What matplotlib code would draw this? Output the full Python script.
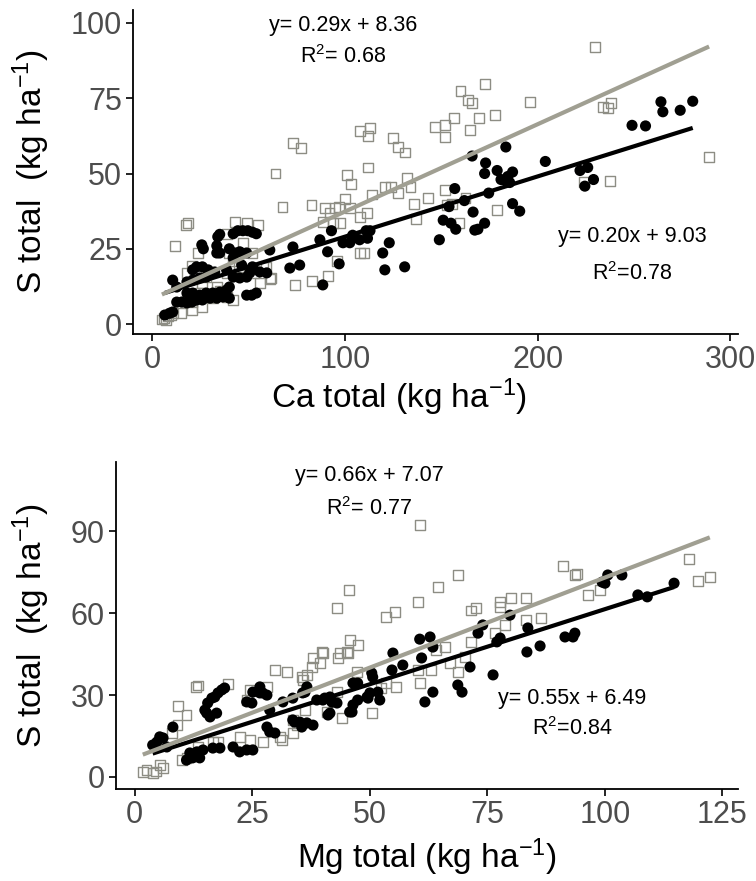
#Description
"""
S total against Ca total and Mg total, two scatter panels with fitted lines.
"""

#Libraries
import matplotlib
matplotlib.use('Agg')
import matplotlib.pyplot as plt

#Constants
plt.rcParams['font.family'] = ['Liberation Sans', 'DejaVu Sans']
plt.rcParams['mathtext.fontset'] = 'custom'
plt.rcParams['mathtext.rm'] = 'Liberation Sans'
plt.rcParams['mathtext.it'] = 'Liberation Sans:italic'
plt.rcParams['mathtext.default'] = 'regular'

GRAY_SQ = '#8d8d84'
GRAY_LINE = '#a09f92'
TICK_GRAY = '#4d4d4d'

#Data
##Ca panel, open squares
ca_sq_x = [72.9, 77, 64, 67.6, 82.6, 108, 113, 112, 101, 103, 112, 114, 100, 97, 102.5,
           89.5, 92, 88.5, 93.7, 108, 110, 91, 83, 74, 61.5, 55, 43, 49, 17.5, 18.5,
           12, 20.5, 23.6, 18, 20.5, 15, 5, 6, 8, 10, 11, 7, 28, 35, 42, 45, 57.5, 61,
           26, 38.5, 229.6, 172.5, 160, 164, 166, 196, 178, 169.5, 165, 156.5, 152,
           146.6, 152, 234, 236.5, 238, 289, 237.5, 224, 125, 127.5, 131, 120.6, 124,
           127.5, 132, 134, 136, 137, 143, 152, 153, 159.5, 162.6, 179, 28, 33.5, 38.6,
           24.6, 20.5, 38.6, 47, 52, 59, 40, 56, 53, 31.4, 42, 18, 26, 111.3, 107.7,
           97.3, 96, 94.7, 155.4]
ca_sq_y = [60.1, 58.5, 50, 39, 39.5, 64, 65, 62.5, 49.5, 46.5, 52, 43, 41.5, 39, 38.5,
           38.5, 37, 34, 33.5, 23.5, 23.5, 16, 14.3, 13, 15.3, 33, 34, 33.5, 33, 33.5,
           26, 19.3, 23.6, 17, 4.6, 3.6, 1.5, 2, 2.5, 3, 3.8, 1.2, 9, 11, 21, 19, 19, 15,
           5.6, 17, 92, 79.7, 77.4, 74.4, 73.4, 73.8, 69.4, 68.4, 64.4, 68.4, 66,
           65.4, 62, 72, 71.7, 73.4, 55.5, 47.5, 47.2, 61.8, 58.8, 57, 45.5, 45.5,
           43.5, 48.5, 45.5, 40, 35, 41.8, 44.5, 39.5, 33.5, 41.8, 38, 15.6, 12.3, 9,
           10.3, 7.3, 30, 27, 23.6, 19, 23.6, 13.6, 17, 8.6, 8, 8, 13.6, 37, 35.5,
           33.5, 21, 38.5, 40]

##Ca panel, filled circles
ca_dot_x = [264, 265, 274, 280.5, 249, 256, 222, 226, 229, 224.5, 204, 183.5, 166, 173,
            172.5, 179, 181, 184.5, 187, 185.5, 183, 157, 174.6, 162, 154, 166.5, 187,
            190.7, 151, 155, 157.5, 167.4, 169, 172.5, 149, 123, 119.6, 120.7, 131,
            93, 87, 91, 99, 105, 111, 111.7, 107.6, 102.5, 73, 71.4, 76.5, 97, 61,
            88.5, 113, 104, 25.7, 26.5, 34, 35, 42, 44.4, 47, 49.6, 52, 54, 33.5, 33.5,
            35, 40, 43, 45.4, 49, 42, 46.4, 52, 50.6, 26, 29, 32.4, 38.6, 42, 10.6,
            12.7, 18, 21, 24.6, 28, 31.4, 35, 38.6, 40, 15.3, 18, 20.5, 23, 26, 30,
            33.5, 36.6, 40, 49, 51.6, 54, 45.4, 49, 55.8, 59.4, 12.7, 10.6, 21, 23,
            18, 21, 24.6, 28, 6.5, 9]
ca_dot_y = [73.8, 70.5, 71, 74, 66, 65.8, 51, 52, 48, 45.8, 54, 58.8, 55.8, 53.5,
            50, 51, 48, 49, 50.5, 47, 47.8, 45, 43.5, 41, 39, 37.2, 40,
            37.5, 34.5, 33.5, 31.5, 31.2, 31.5, 33.5, 28, 27, 23.6, 18, 19,
            31, 28, 24, 27, 29, 31, 28.5, 28, 27, 25.6, 18.6, 19.6, 20, 24.6,
            13, 31, 29.5, 26.3, 25, 29, 29.8, 30, 31, 31, 31, 30.5, 30, 26, 23.6,
            23.6, 25, 23.6, 24, 23.6, 22, 19.6, 19, 17, 19, 18, 17.3, 18, 15.6, 14.6,
            12.3, 10.3, 10.3, 9.6, 10.3, 10.3, 10.6, 11.3, 12.3, 7.3, 7, 7.3, 8, 8, 8.6,
            8.6, 9, 8.6, 9.6, 9.6, 10.3, 15.3, 15.6, 17.3, 17, 7.3, 4, 18, 19,
            14, 14.6, 15.3, 15.6, 3, 3.6]

##Mg panel, open squares
mg_sq_x = [60.6, 68.7, 64.5, 60.2, 55.3, 53.4, 71.5, 72.5, 77.7, 77.7, 80, 83.2, 91,
           93.6, 94, 96.4, 99, 117.9, 119.8, 122.3, 83.2, 86.4, 71.5, 70.2, 67, 68.7,
           66, 64, 63, 60.2, 60.6, 55.5, 53.4, 52.3, 78.7, 76.6, 45.5, 43, 45.7, 47.4,
           45.1, 43.6, 45.3, 43.2, 39.8, 37.9, 37.7, 39.4, 35.5, 36.6, 32.3, 29.8,
           47.2, 43, 50.4, 44, 36.2, 33.6, 30.9, 33.6, 27.2, 28.1, 13, 13.4, 19.8,
           9.2, 11, 9.1, 7.9, 24.5, 23.8, 35.7, 40, 34.5, 31.3, 24.5, 22.3, 16.6,
           17.7, 13.4, 10, 11, 5.3, 1.7, 3.8, 6, 40.9, 2.5, 4.5]
mg_sq_y = [92.3, 74, 69.6, 64, 60.4, 58.6, 61, 62, 64, 62.3, 65.6, 65.6, 77.3,
           74, 74.5, 66.7, 68.5, 79.9, 71.8, 73.3, 57.5, 58.2, 49.5, 44, 41.8, 38.5,
           47.6, 46.5, 39.2, 39.2, 34.4, 33, 34.4, 32.6, 55.7, 52.7, 68.5, 62, 50.2, 48.4,
           45.8, 45.4, 45.4, 43.6, 45.8, 43.6, 40.3, 41.8, 36.6, 37.4, 38.5, 39.2,
           38.5, 31, 23.4, 21.6, 24.5, 20.9, 14.7, 16.1, 12.8, 33, 33, 33.5, 34,
           26, 22.7, 19, 16.1, 32, 28.2, 35.5, 45.4, 19, 13.6, 13.6, 14.7, 12.8,
           12.8, 11, 6.2, 7, 4.4, 1.8, 1.5, 3.3, 23.8, 2.5, 2]

##Mg panel, filled circles
mg_dot_x = [114.7, 107, 109, 100.6, 103.6, 100, 99.4, 91.5, 93.6, 93.2, 83.4, 86.2,
            83.6, 79.8, 74, 73, 77.7, 77, 76.2, 71.3, 68.7, 69.6, 60.6, 62.8, 63.4,
            61, 54.9, 54.7, 57, 50.6, 51.7, 52.1, 49.6, 47.4, 46.4, 46.2, 41.5, 41.9,
            40.4, 37.9, 35.5, 34, 36.2, 33.6, 31.5, 28.7, 28.1, 28.7, 26.6, 63.4, 61.7,
            14.9, 15.5, 16.4, 17, 17.7, 18.5, 19.1, 16, 15.3, 17.4, 25.1, 26.6, 27.2,
            28.1, 23.8, 24.9, 4.7, 5.3, 6, 3.8, 6.8, 11.7, 13.2, 14.5, 16.6, 18.1,
            20.9, 23.8, 25.1, 22.3, 11, 12.3, 13.8, 29.8, 33.6, 35.1, 36.6, 38.7, 40,
            41.5, 42.1, 43, 41.1, 45.7, 46.4, 49.4, 50, 50.4, 47.4, 8.1, 35.7, 36.6]
mg_dot_y = [71, 66.7, 66, 74, 74, 71, 71.4, 51.3, 52.7, 51.3, 45.8, 48,
            54.6, 59.3, 55.7, 52.7, 50.9, 49.5, 37.4, 40.3, 33.7, 31.1, 50.5, 51.3, 47.6,
            43.6, 45.4, 39.2, 41, 36.6, 31.1, 28.2, 28.9, 28.2, 34.4, 23.8, 23.4, 27.5,
            28.9, 19, 18.3, 20.1, 31.1, 28.9, 27.5, 24.5, 18.3, 16.5, 30.8, 31.1, 27.5,
            24.5, 27.1, 28.9, 29.3, 30.8, 31.9, 32.6, 22, 23.4, 23.4, 31.1, 33, 30.8,
            30, 27.5, 27.1, 12.8, 14.7, 14.3, 11.7, 11, 8.8, 9.2, 9.9, 10.6, 10.6,
            11, 9.9, 9.9, 9.2, 6.2, 7, 7, 16.1, 20.9, 20.1, 19.8, 28.2, 28.2,
            29.3, 27.5, 27.1, 22.7, 23.8, 26.4, 29.3, 30.8, 38.1, 34.4, 18.3, 30.8, 33]

##Fitted equations (slope, intercept) and their labels
ca_fit_sq = (0.29, 8.36)
ca_fit_dot = (0.20, 9.03)
mg_fit_sq = (0.66, 7.07)
mg_fit_dot = (0.55, 6.49)

ca_text_sq = ['y= 0.29x + 8.36', 'R$^2$= 0.68']
ca_text_dot = ['y= 0.20x + 9.03', 'R$^2$=0.78']
mg_text_sq = ['y= 0.66x + 7.07', 'R$^2$= 0.77']
mg_text_dot = ['y= 0.55x + 6.49', 'R$^2$=0.84']


#Drawing one panel
def draw_panel(ax, sq_x, sq_y, dot_x, dot_y, fit_sq, fit_dot):
    ##Points
    ax.scatter(sq_x, sq_y, marker='s', s=50, facecolors='none',
               edgecolors=GRAY_SQ, linewidths=1.0, zorder=2)
    ax.scatter(dot_x, dot_y, marker='o', s=64, color='black',
               edgecolors='none', zorder=3)

    ##Fitted lines over the range of each series
    for xs, (m, b), col in ((dot_x, fit_dot, 'black'), (sq_x, fit_sq, GRAY_LINE)):
        x0, x1 = min(xs), max(xs)
        ax.plot([x0, x1], [m * x0 + b, m * x1 + b], color=col, lw=3.0,
                solid_capstyle='butt', zorder=4)

    ##Axis styling
    for side in ('top', 'right'):
        ax.spines[side].set_visible(False)
    for side in ('left', 'bottom'):
        ax.spines[side].set_linewidth(1.3)
    ax.tick_params(direction='out', length=5, width=1.2, labelsize=22,
                   labelcolor=TICK_GRAY, pad=3)


#Main
def main():
    fig = plt.figure(figsize=(7.56, 8.81), dpi=100)

    ##Ca panel
    ax1 = fig.add_axes([133 / 756, 1 - 334 / 881, 605 / 756, 324 / 881])
    draw_panel(ax1, ca_sq_x, ca_sq_y, ca_dot_x, ca_dot_y, ca_fit_sq, ca_fit_dot)
    ax1.set_xlim(-10, 304)
    ax1.set_ylim(-3.3, 104.3)
    ax1.set_xticks([0, 100, 200, 300])
    ax1.set_yticks([0, 25, 50, 75, 100])
    ax1.set_xlabel('Ca total (kg ha$^{-1}$)', fontsize=24)
    ax1.set_ylabel('S total  (kg ha$^{-1}$)', fontsize=24)
    ax1.xaxis.set_label_coords(0.44, -0.13)
    ax1.yaxis.set_label_coords(-0.134, 0.5)
    ax1.text(99, 99.3, ca_text_sq[0], fontsize=15.5, ha='center', va='center')
    ax1.text(99, 89.0, ca_text_sq[1], fontsize=15.5, ha='center', va='center')
    ax1.text(249, 29.2, ca_text_dot[0], fontsize=15.5, ha='center', va='center')
    ax1.text(249, 16.8, ca_text_dot[1], fontsize=15.5, ha='center', va='center')

    ##Mg panel
    ax2 = fig.add_axes([116 / 756, 1 - 789 / 881, 622 / 756, 327 / 881])
    draw_panel(ax2, mg_sq_x, mg_sq_y, mg_dot_x, mg_dot_y, mg_fit_sq, mg_fit_dot)
    ax2.set_xlim(-4, 128.3)
    ax2.set_ylim(-4.4, 115.4)
    ax2.set_xticks([0, 25, 50, 75, 100, 125])
    ax2.set_yticks([0, 30, 60, 90])
    ax2.set_xlabel('Mg total (kg ha$^{-1}$)', fontsize=24)
    ax2.set_ylabel('S total  (kg ha$^{-1}$)', fontsize=24)
    ax2.xaxis.set_label_coords(0.5, -0.145)
    ax2.yaxis.set_label_coords(-0.103, 0.5)
    ax2.text(49.8, 110.3, mg_text_sq[0], fontsize=15.5, ha='center', va='center')
    ax2.text(49.8, 98.5, mg_text_sq[1], fontsize=15.5, ha='center', va='center')
    ax2.text(93, 28.9, mg_text_dot[0], fontsize=15.5, ha='center', va='center')
    ax2.text(93, 17.8, mg_text_dot[1], fontsize=15.5, ha='center', va='center')

    fig.savefig('out.png', dpi=100)
    plt.close(fig)


#Execution
if __name__ == '__main__':
    main()
